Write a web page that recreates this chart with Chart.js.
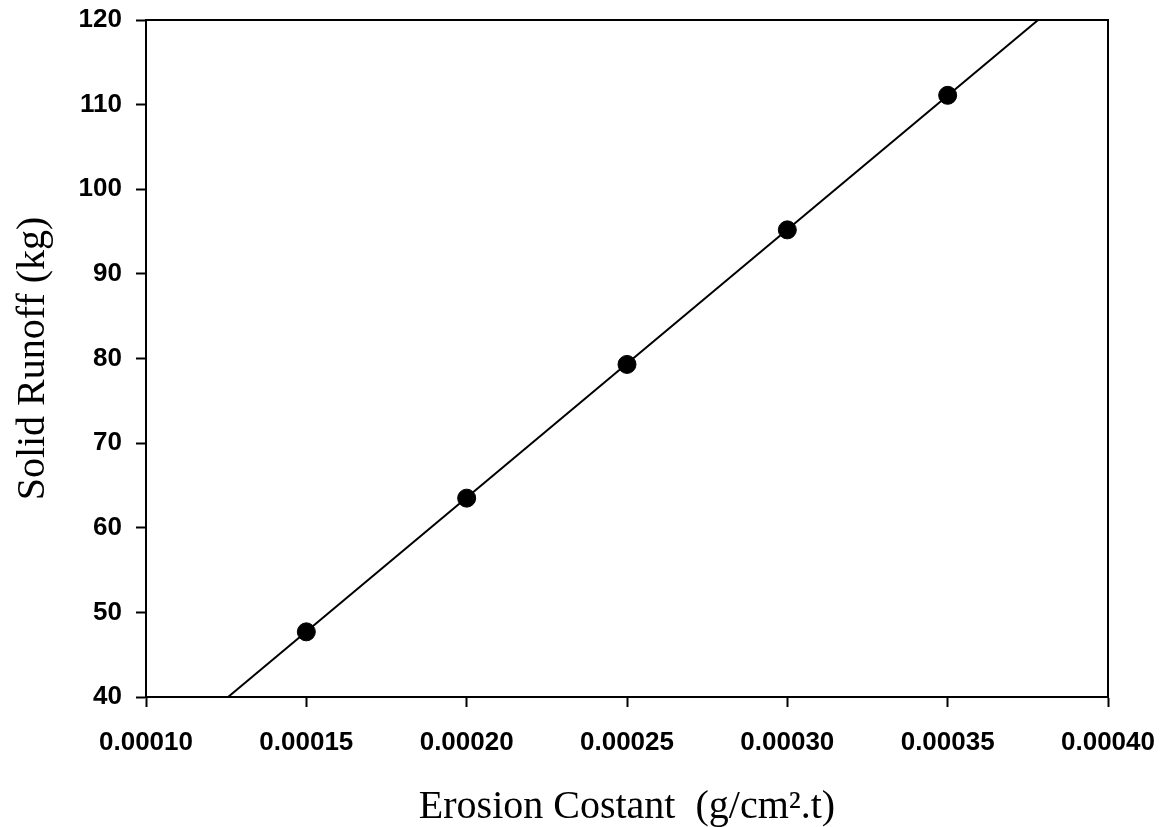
<!DOCTYPE html>
<html>
<head>
<meta charset="utf-8">
<script src="https://cdn.jsdelivr.net/npm/chart.js@4.4.0/dist/chart.umd.min.js"></script>
<style>
html,body{margin:0;padding:0;background:#fff;}
#wrap{width:1166px;height:827px;}
</style>
</head>
<body>
<div id="wrap"><canvas id="c" width="1166" height="827"></canvas></div>
<script>
const erosionConst = [0.00015, 0.00020, 0.00025, 0.00030, 0.00035];
const solidRunoff = [47.7, 63.5, 79.3, 95.2, 111.1];
const fitX = [0.0001256, 0.0003782];
const fitY = [40, 120];
const xTicks = [0.00010, 0.00015, 0.00020, 0.00025, 0.00030, 0.00035, 0.00040];
const yTicks = [40, 50, 60, 70, 80, 90, 100, 110, 120];
const xTitle = "Erosion Costant  (g/cm\u00B2.t)";
const yTitle = "Solid Runoff (kg)";

const frame = {
  id: 'frame',
  afterDatasetsDraw(chart) {
    const a = chart.chartArea, ctx = chart.ctx;
    ctx.save();
    ctx.strokeStyle = '#000';
    ctx.lineWidth = 2;
    ctx.strokeRect(a.left, a.top, a.right - a.left, a.bottom - a.top);
    ctx.restore();
  }
};

const tickFont = {family: '"Liberation Sans", Arial, sans-serif', size: 26, weight: 'bold'};
const titleFont = {family: '"Liberation Serif", "Times New Roman", serif', size: 40, lineHeight: 1.0};

new Chart(document.getElementById('c'), {
  type: 'scatter',
  data: {
    datasets: [
      {
        type: 'line',
        data: fitX.map((x, i) => ({x: x, y: fitY[i]})),
        borderColor: '#000',
        borderWidth: 2,
        pointRadius: 0,
        fill: false,
        order: 2
      },
      {
        data: erosionConst.map((x, i) => ({x: x, y: solidRunoff[i]})),
        backgroundColor: '#000',
        borderColor: '#000',
        pointRadius: 9,
        order: 1
      }
    ]
  },
  options: {
    responsive: false,
    animation: false,
    layout: {padding: {left: 0, right: 58, top: 20, bottom: 0}},
    plugins: {legend: {display: false}, tooltip: {enabled: false}},
    scales: {
      x: {
        type: 'linear',
        min: 0.0001, max: 0.0004,
        afterBuildTicks: s => { s.ticks = xTicks.map(v => ({value: v})); },
        afterFit: s => { s.height = 130; s.paddingLeft = 0; s.paddingRight = 0; },
        ticks: {
          color: '#000', font: tickFont, padding: 20, maxRotation: 0,
          callback: v => Number(v).toFixed(5)
        },
        grid: {display: true, drawOnChartArea: false, drawTicks: true, tickLength: 10, tickWidth: 2, color: '#000'},
        border: {display: true, color: '#000', width: 2},
        title: {display: true, text: xTitle, color: '#000', font: titleFont, padding: {top: 0, bottom: 0}}
      },
      y: {
        type: 'linear',
        min: 40, max: 120,
        afterBuildTicks: s => { s.ticks = yTicks.map(v => ({value: v})); },
        afterFit: s => { s.width = 146; s.paddingTop = 0; s.paddingBottom = 0; },
        ticks: {color: '#000', font: tickFont, padding: 14},
        grid: {display: true, drawOnChartArea: false, drawTicks: true, tickLength: 10, tickWidth: 2, color: '#000'},
        border: {display: true, color: '#000', width: 2},
        title: {display: true, text: yTitle, color: '#000', font: titleFont, padding: {top: 13, bottom: 0}}
      }
    }
  },
  plugins: [frame]
});
</script>
</body>
</html>
